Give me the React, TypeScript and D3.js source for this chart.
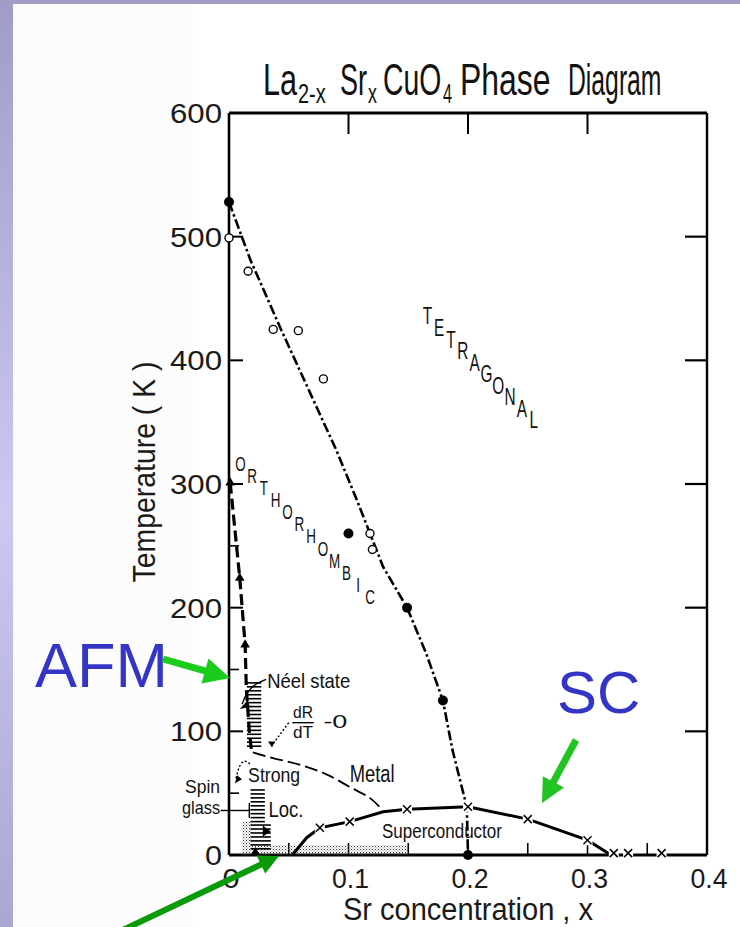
import * as d3 from "d3";

const W = 740;
const H = 927;
const FONT = "'Liberation Sans','Arimo',Arial,sans-serif";

// axes
const xTicks = [0, 0.1, 0.2, 0.3, 0.4];
const xTickLabels = ["0", "0.1", "0.2", "0.3", "0.4"];
const yTicks = [100, 200, 300, 400, 500];
const yTickLabels = ["0", "100", "200", "300", "400", "500", "600"];
const yLabelValues = [0, 100, 200, 300, 400, 500, 600];
const xMinorTicks = [0.05, 0.1, 0.15, 0.2, 0.25, 0.3, 0.35];
const yMinorTicks = [50, 150, 250];

// orthorhombic / tetragonal boundary  [x, T]
const structBoundary: [number, number][] = [
  [0, 528], [0.018, 481], [0.044, 424], [0.09, 327], [0.107, 287], [0.129, 233],
  [0.149, 200], [0.165, 163], [0.179, 125], [0.187, 85], [0.194, 58], [0.199, 39], [0.2, 0],
];
const structFilled: [number, number][] = [[0, 528], [0.1, 260], [0.149, 200], [0.179, 125], [0.2, 0]];
const structOpen: [number, number][] = [
  [0, 499], [0.016, 472], [0.037, 425], [0.058, 424], [0.079, 385], [0.118, 260], [0.12, 247],
];

// Neel line (AFM)
const neelLine: [number, number][] = [
  [0.001, 301], [0.009, 224], [0.0135, 170], [0.0145, 135], [0.017, 100], [0.019, 83],
];
const neelTriangles: [number, number][] = [[0.001, 301], [0.009, 224], [0.0135, 170], [0.022, 2]];

// metal boundary
const metalBoundary: [number, number][] = [
  [0.02, 83], [0.034, 79], [0.059, 73], [0.082, 65], [0.101, 55], [0.118, 46], [0.129, 36],
];

// superconducting dome
const scDome: [number, number][] = [
  [0.053, 0], [0.065, 14], [0.076, 22], [0.101, 27], [0.129, 35], [0.149, 37],
  [0.2, 39], [0.25, 29], [0.3, 12], [0.318, 1],
];
const scCrosses: [number, number][] = [
  [0.076, 22], [0.101, 27], [0.149, 37], [0.2, 39], [0.25, 29], [0.3, 12],
  [0.322, 1.5], [0.334, 1.5], [0.362, 1.5],
];

// hatched / stippled regions [x0, x1, T0, T1]
const hatchRegions: [number, number, number, number][] = [
  [0.015, 0.027, 88, 140],
  [0.018, 0.03, 27, 53],
  [0.018, 0.035, 5, 27],
];
const stippleRegions: [number, number, number, number][] = [
  [0.011, 0.019, 0, 27],
  [0.019, 0.15, 0, 8],
];

// region names, written as a staircase from [x, T] start to end
const orthoLetters = "ORTHORHOMBIC";
const orthoPath: [number, number][] = [[0.0095, 317], [0.118, 209]];
const tetraLetters = "TETRAGONAL";
const tetraPath: [number, number][] = [[0.166, 436], [0.255, 352]];

// title pieces: text, left x, sub?, horizontal squeeze
const titleParts: [string, number, boolean, number][] = [
  ["La", 263, false, 0.68],
  ["2-x", 298, true, 0.74],
  ["Sr", 340, false, 0.6],
  ["x", 368, true, 0.66],
  ["CuO", 383, false, 0.63],
  ["4", 443, true, 0.6],
  ["Phase", 460, false, 0.71],
  ["Diagram", 568, false, 0.55],
];

// small labels: text, x, T, width, size, anchor
const notes: [string, number, number, number, number, string][] = [
  ["Néel state", 0.032, 135, 83, 21, "start"],
  ["Metal", 0.101, 59, 45, 23, "start"],
  ["Strong", 0.016, 59, 52, 21, "start"],
  ["Loc.", 0.033, 31, 35, 22, "start"],
  ["Spin", -0.0075, 50, 35, 19, "end"],
  ["glass", -0.0075, 33, 38, 19, "end"],
  ["Superconductor", 0.128, 14, 120, 21, "start"],
  ["dR", 0.062, 111, 20, 16, "middle"],
  ["dT", 0.062, 95, 20, 16, "middle"],
  ["-0", 0.079, 103, 24, 19, "start"],
];

function arrowPoints(x0: number, y0: number, x1: number, y1: number, shaft: number, headLen: number, headW: number) {
  const dx = x1 - x0;
  const dy = y1 - y0;
  const L = Math.hypot(dx, dy);
  const ux = dx / L, uy = dy / L;
  const px = -uy, py = ux;
  const bx = x1 - ux * headLen, by = y1 - uy * headLen;
  const pts = [
    [x0 + (px * shaft) / 2, y0 + (py * shaft) / 2],
    [bx + (px * shaft) / 2, by + (py * shaft) / 2],
    [bx + (px * headW) / 2, by + (py * headW) / 2],
    [x1, y1],
    [bx - (px * headW) / 2, by - (py * headW) / 2],
    [bx - (px * shaft) / 2, by - (py * shaft) / 2],
    [x0 - (px * shaft) / 2, y0 - (py * shaft) / 2],
  ];
  return pts.map((p) => p.join(",")).join(" ");
}

export default function App() {
  const x = d3.scaleLinear().domain([0, 0.4]).range([229, 707]);
  const y = d3.scaleLinear().domain([0, 600]).range([855, 113]);
  const line = d3.line<[number, number]>().x((d) => x(d[0])).y((d) => y(d[1]));
  const smooth = d3
    .line<[number, number]>()
    .x((d) => x(d[0]))
    .y((d) => y(d[1]))
    .curve(d3.curveCatmullRom);

  const tri = d3.symbol().type(d3.symbolTriangle).size(40)();

  const staircase = (letters: string, path: [number, number][], fs: number, key: string) => {
    const ix = d3.interpolateNumber(x(path[0][0]), x(path[1][0]));
    const iy = d3.interpolateNumber(y(path[0][1]), y(path[1][1]));
    return letters.split("").map((c, i) => {
      const t = i / (letters.length - 1);
      return (
        <text
          key={key + i}
          transform={`translate(${ix(t)},${iy(t) + fs * 0.36}) scale(0.64,1)`}
          textAnchor="middle"
          fontSize={fs}
          fill="#111"
        >
          {c}
        </text>
      );
    });
  };

  const hatchLines = hatchRegions.flatMap(([x0, x1, t0, t1]) =>
    d3.range(t0, t1, 3.2).map((t) => ({ x1: x(x0), x2: x(x1), yy: y(t) }))
  );

  const fit = { lengthAdjust: "spacingAndGlyphs" as const };

  return (
    <svg
      width={W}
      height={H}
      style={{ position: "absolute", left: 0, top: 0, background: "#fff" }}
      fontFamily={FONT}
    >
      <defs>
        <linearGradient id="side" x1="0" y1="0" x2="0" y2="1">
          <stop offset="0" stopColor="#a09cc8" />
          <stop offset="0.55" stopColor="#c9c9f2" />
          <stop offset="1" stopColor="#a9a7d3" />
        </linearGradient>
        <pattern id="dots" width="3" height="3" patternUnits="userSpaceOnUse">
          <rect x="0" y="0" width="1" height="1" fill="#333" />
          <rect x="1.5" y="1.5" width="1" height="1" fill="#777" />
        </pattern>
      </defs>

      {/* slide background */}
      <rect x={0} y={0} width={W} height={H} fill="#fff" />
      <rect x={13} y={4} width={180} height={H} fill="#fcfcfc" />
      <rect x={0} y={0} width={13} height={H} fill="url(#side)" />
      <rect x={0} y={0} width={W} height={4} fill="#9f9cc6" />

      {/* title */}
      <g fill="#111">
        {titleParts.map(([t, tx, sub, sx], i) => (
          <text
            key={"ti" + i}
            transform={`translate(${tx},${sub ? 103 : 95}) scale(${sx},1)`}
            fontSize={sub ? 27 : 45}
          >
            {t}
          </text>
        ))}
      </g>

      {/* frame */}
      <g stroke="#000" fill="none">
        <line x1={x(0)} x2={x(0.4)} y1={y(600)} y2={y(600)} strokeWidth={3} />
        <line x1={x(0)} x2={x(0.4)} y1={y(0)} y2={y(0)} strokeWidth={3} />
        <line x1={x(0)} x2={x(0)} y1={y(600)} y2={y(0)} strokeWidth={2.6} />
        <line x1={x(0.4)} x2={x(0.4)} y1={y(600)} y2={y(0)} strokeWidth={2.4} />
        {xTicks.slice(1, 4).map((v) => (
          <line key={"tt" + v} x1={x(v)} x2={x(v)} y1={y(600)} y2={y(600) + 21} strokeWidth={2} />
        ))}
        {xMinorTicks.map((v) => (
          <line key={"bt" + v} x1={x(v)} x2={x(v)} y1={y(0)} y2={y(0) - 12} strokeWidth={1.6} />
        ))}
        {yTicks.map((v) => (
          <line key={"lt" + v} x1={x(0)} x2={x(0) + 14} y1={y(v)} y2={y(v)} strokeWidth={2} />
        ))}
        {yMinorTicks.map((v) => (
          <line key={"lm" + v} x1={x(0)} x2={x(0) + 10} y1={y(v)} y2={y(v)} strokeWidth={1.6} />
        ))}
        {yTicks.map((v) => (
          <line key={"rt" + v} x1={x(0.4)} x2={x(0.4) - 22} y1={y(v)} y2={y(v)} strokeWidth={2.2} />
        ))}
      </g>

      {/* tick labels */}
      <g fill="#1a1a1a" fontSize={28}>
        {yLabelValues.map((v, i) => (
          <text key={"yl" + v} x={222} y={y(v) + 10} textAnchor="end" textLength={v === 0 ? 17 : 52} {...fit}>
            {yTickLabels[i]}
          </text>
        ))}
        {xTicks.map((v, i) => (
          <text key={"xl" + v} x={x(v) + 2} y={888} textAnchor="middle" textLength={v === 0 ? 17 : 37} {...fit}>
            {xTickLabels[i]}
          </text>
        ))}
      </g>

      {/* axis titles */}
      <text x={343} y={920} fontSize={31} fill="#1a1a1a" textLength={250} {...fit}>
        Sr concentration , x
      </text>
      <text
        transform="translate(155,472) rotate(-90)"
        textAnchor="middle"
        fontSize={31}
        fill="#1a1a1a"
        textLength={221}
        {...fit}
      >
        Temperature ( K )
      </text>

      {/* stipple + hatch */}
      {stippleRegions.map(([x0, x1, t0, t1], i) => (
        <rect key={"st" + i} x={x(x0)} y={y(t1)} width={x(x1) - x(x0)} height={y(t0) - y(t1)} fill="url(#dots)" />
      ))}
      <g stroke="#000" strokeWidth={1.6}>
        {hatchLines.map((h, i) => (
          <line key={"h" + i} x1={h.x1} x2={h.x2} y1={h.yy} y2={h.yy} />
        ))}
      </g>

      {/* structural boundary */}
      <path d={line(structBoundary) || ""} fill="none" stroke="#000" strokeWidth={2.6} strokeDasharray="10 3 2.5 3" />
      {structFilled.map((d, i) => (
        <circle key={"sf" + i} cx={x(d[0])} cy={y(d[1])} r={5} fill="#000" />
      ))}
      {structOpen.map((d, i) => (
        <circle key={"so" + i} cx={x(d[0])} cy={y(d[1])} r={4} fill="#fff" stroke="#000" strokeWidth={1.4} />
      ))}

      {/* Neel line */}
      <path d={line(neelLine) || ""} fill="none" stroke="#000" strokeWidth={3.2} strokeDasharray="11 5" />
      {neelTriangles.map((d, i) => (
        <path key={"nt" + i} d={tri || ""} transform={`translate(${x(d[0])},${y(d[1])})`} fill="#000" />
      ))}

      {/* metal boundary */}
      <path d={smooth(metalBoundary) || ""} fill="none" stroke="#000" strokeWidth={1.8} strokeDasharray="13 5" />

      {/* superconducting dome */}
      <path d={line(scDome) || ""} fill="none" stroke="#000" strokeWidth={3} />
      <g stroke="#000" strokeWidth={1.5}>
        {scCrosses.map((d, i) => (
          <g key={"sc" + i} transform={`translate(${x(d[0])},${y(d[1])})`}>
            <rect x={-5} y={-5} width={10} height={10} fill="#fff" stroke="none" />
            <line x1={-4} y1={-4} x2={4} y2={4} />
            <line x1={-4} y1={4} x2={4} y2={-4} />
          </g>
        ))}
      </g>

      {/* region names */}
      {staircase(orthoLetters, orthoPath, 21, "o")}
      {staircase(tetraLetters, tetraPath, 24, "t")}

      {/* small labels */}
      <g fill="#111">
        {notes.map(([t, nx, nT, w, fs, anchor], i) => (
          <text key={"n" + i} x={x(nx)} y={y(nT)} fontSize={fs} textAnchor={anchor} textLength={w} {...fit}>
            {t}
          </text>
        ))}
      </g>

      {/* pointers */}
      <g fill="none" stroke="#000" strokeWidth={1.4}>
        <line x1={x(0.053)} x2={x(0.071)} y1={y(107)} y2={y(107)} />
        <path d={`M${x(0.031)},${y(142)} L${x(0.024)},${y(139)} Q${x(0.015)},${y(134)} ${x(0.011)},${y(122)}`} />
        <path d={`M${x(0.05)},${y(107)} L${x(0.037)},${y(90)}`} strokeDasharray="2 2" />
        <path d={`M${x(0.006)},${y(62)} Q${x(0.01)},${y(82)} ${x(0.018)},${y(73)}`} strokeDasharray="2 2" />
        <line x1={x(-0.007)} x2={x(0.018)} y1={y(36)} y2={y(36)} />
        <line x1={x(0.017)} x2={x(0.017)} y1={y(30)} y2={y(42)} />
      </g>
      <g fill="#000">
        <path d={`M${x(0.009)},${y(118)} l8,-9 l2,7 z`} />
        <path d={`M${x(0.036)},${y(87)} l-4,-6 l7,0 z`} />
        <path d={`M${x(0.005)},${y(58)} l2,-8 l5,4 z`} />
        <path d={`M${x(0.035)},${y(19)} l-8,-6 l0,11 z`} />
      </g>

      {/* slide annotations */}
      <text x={35} y={687} fontSize={63} fill="#3434c6">
        AFM
      </text>
      <text x={557} y={713} fontSize={60} fill="#3434c6">
        SC
      </text>
      <polygon points={arrowPoints(163, 659, 230, 678, 7, 26, 26)} fill="#1ccc1c" />
      <polygon points={arrowPoints(576, 740, 542, 803, 7, 24, 24)} fill="#22c422" />
      <polygon points={arrowPoints(108, 937, 279, 856, 6, 20, 20)} fill="#0a9a0a" />
    </svg>
  );
}
